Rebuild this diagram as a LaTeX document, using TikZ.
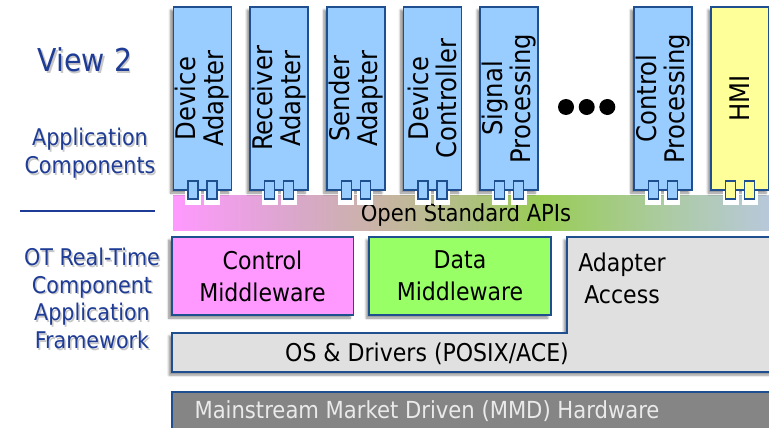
\documentclass[tikz,border=0pt]{standalone}
\usepackage{fontspec}
\setmainfont{DejaVu Sans Condensed}
\usetikzlibrary{shadows.blur}

\definecolor{frame}{HTML}{1F4F8F}
\definecolor{compblue}{HTML}{99CCFF}
\definecolor{hmiyellow}{HTML}{FFFF99}
\definecolor{ctlpink}{HTML}{FF99FF}
\definecolor{datagreen}{HTML}{99FF66}
\definecolor{osgray}{HTML}{E0E0E0}
\definecolor{hwgray}{HTML}{858585}
\definecolor{hwtext}{HTML}{EAEAEA}
\definecolor{labelblue}{HTML}{1E3C96}
\definecolor{apiA}{HTML}{FF99FF}
\definecolor{apiB}{HTML}{D8A8C8}
\definecolor{apiC}{HTML}{C8B4A4}
\definecolor{apiD}{HTML}{ADC07E}
\definecolor{apiE}{HTML}{99CC55}
\definecolor{apiF}{HTML}{ABCB9F}
\definecolor{apiG}{HTML}{B8C8DC}

\tikzset{
  softshadow/.style={blur shadow={shadow xshift=-3pt, shadow yshift=-3pt,
      shadow blur steps=6, shadow opacity=45}},
  comp/.style={draw=frame, line width=1.6pt, fill=compblue, inner sep=0pt,
      minimum width=58pt, minimum height=183pt, softshadow},
  compname/.style={rotate=90, align=center, inner sep=0pt,
      font=\fontsize{27}{28}\selectfont},
  port/.style={draw=frame, line width=1.2pt, fill=compblue, inner sep=0pt,
      minimum width=10pt, minimum height=18pt},
  portgap/.style={fill=white, inner sep=0pt, minimum width=16pt, minimum height=14pt},
  midbox/.style={draw=frame, line width=1.6pt, inner sep=0pt, align=center,
      minimum width=181.6pt, minimum height=78pt,
      font=\fontsize{24.5}{32}\selectfont, softshadow},
  boxtext/.style={align=center, inner sep=0pt, font=\fontsize{24.5}{32}\selectfont},
  sidelabel/.style={align=center, inner sep=0pt, text=labelblue,
      font=\fontsize{23}{27.7}\selectfont},
  sideshadow/.style={align=center, inner sep=0pt, text=black!22,
      font=\fontsize{23}{27.7}\selectfont},
}

\begin{document}
\begin{tikzpicture}[x=1pt, y=-1pt]
\useasboundingbox (0,0) rectangle (769,428);
\clip (0,0) rectangle (769,428);

% ---------- side labels ----------
\node[sideshadow, font=\fontsize{31.5}{34}\selectfont] (view-s) at (86.5,61.5) {View 2};
\node[sidelabel, font=\fontsize{31.5}{34}\selectfont] (view) at (85,60) {View 2};
\node[sideshadow] (appc-s) at (91.5,155) {Application\\Components};
\node[sidelabel] (appc) at (90,153.5) {Application\\Components};
\draw[labelblue, line width=2pt] (20,211) -- (155,211);
\node[sideshadow] (fw-s) at (93.5,300) {OT Real-Time\\Component\\Application\\Framework};
\node[sidelabel] (fw) at (92,298.5) {OT Real-Time\\Component\\Application\\Framework};

% ---------- open standard API band ----------
\shade[left color=apiA, right color=apiB] (173,195) rectangle (301,230);
\shade[left color=apiB, right color=apiC] (300,195) rectangle (381,230);
\shade[left color=apiC, right color=apiD] (380,195) rectangle (471,230);
\shade[left color=apiD, right color=apiE] (470,195) rectangle (541,230);
\shade[left color=apiE, right color=apiF] (540,195) rectangle (661,230);
\shade[left color=apiF, right color=apiG] (660,195) rectangle (772,230);
\node[inner sep=0pt, font=\fontsize{23.5}{25}\selectfont] (api) at (466,215.5) {Open Standard APIs};

% ---------- application components ----------
\foreach \n/\x/\c/\t in {
    da/202.5/compblue/{Device\\Adapter},
    ra/279/compblue/{Receiver\\Adapter},
    sa/355.8/compblue/{Sender\\Adapter},
    dc/432.5/compblue/{Device\\Controller},
    sp/509.2/compblue/{Signal\\Processing},
    cp/662.8/compblue/{Control\\Processing},
    hmi/740/hmiyellow/{HMI}} {
  \node[comp, fill=\c] (\n) at (\x,98.5) {};
  \node[compname] (\n-name) at (\n.center) {\t};
  \node[portgap] (\n-g1) at (\x-9.5,198) {};
  \node[portgap] (\n-g2) at (\x+9.5,198) {};
  \node[port, fill=\c] (\n-p1) at (\x-9.5,190) {};
  \node[port, fill=\c] (\n-p2) at (\x+9.5,190) {};
}

% ellipsis between the component groups
\fill (566,107) circle (8pt);
\fill (586.7,107) circle (8pt);
\fill (607.3,107) circle (8pt);

% ---------- middleware ----------
\node[midbox, fill=ctlpink] (ctl) at (262.5,276) {Control\\Middleware};
\node[midbox, fill=datagreen] (data) at (460,276) {Data\\Middleware};

% OS layer and adapter access share one L-shaped outline
\draw[fill=osgray, draw=frame, line width=1.6pt, softshadow]
  (172,333) -- (567,333) -- (567,237) -- (790,237) -- (790,372) -- (172,372) -- cycle;
\node[boxtext] (acc) at (622,278) {Adapter\\Access};
\node[boxtext] (os) at (427,354) {OS \& Drivers (POSIX/ACE)};

% ---------- hardware ----------
\draw[fill=hwgray, draw=frame, line width=1.4pt] (172,392) rectangle (790,445);
\node[boxtext, text=hwtext, font=\fontsize{23.5}{26}\selectfont] (hw) at (427,411) {Mainstream Market Driven (MMD) Hardware};
\end{tikzpicture}
\end{document}
